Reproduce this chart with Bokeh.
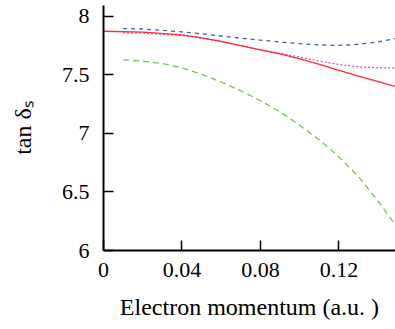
from bokeh.plotting import figure
from bokeh.models import Range1d, FixedTicker, CustomJSTickFormatter
from bokeh.embed import file_html
from bokeh.resources import INLINE

# data
k_red = [0.0, 0.02, 0.04, 0.05, 0.06, 0.07, 0.08, 0.09, 0.10, 0.11, 0.12, 0.13, 0.14, 0.149]
t_red = [7.874, 7.866, 7.843, 7.818, 7.787, 7.751, 7.715, 7.68, 7.638, 7.59, 7.54, 7.49, 7.443, 7.40]

k_blue = [0.01, 0.02, 0.03, 0.04, 0.05, 0.06, 0.07, 0.08, 0.09, 0.10, 0.11, 0.12, 0.13, 0.14, 0.149]
t_blue = [7.898, 7.893, 7.882, 7.868, 7.852, 7.833, 7.815, 7.798, 7.782, 7.768, 7.757, 7.753, 7.762, 7.784, 7.812]

k_mag = [0.01, 0.02, 0.04, 0.05, 0.06, 0.07, 0.08, 0.09, 0.10, 0.11, 0.12, 0.13, 0.14, 0.149]
t_mag = [7.862, 7.858, 7.838, 7.815, 7.785, 7.75, 7.715, 7.685, 7.653, 7.618, 7.59, 7.57, 7.562, 7.56]

k_green = [0.01, 0.02, 0.03, 0.04, 0.05, 0.06, 0.07, 0.08, 0.09, 0.10, 0.11, 0.12, 0.13, 0.14, 0.149]
t_green = [7.63, 7.618, 7.598, 7.56, 7.505, 7.44, 7.365, 7.28, 7.185, 7.07, 6.945, 6.80, 6.63, 6.42, 6.213]

x_ticks = [0, 0.04, 0.08, 0.12]
x_tick_labels = ["0", "0.04", "0.08", "0.12"]
y_ticks = [6, 6.5, 7, 7.5, 8]
y_tick_labels = ["6", "6.5", "7", "7.5", "8"]

FONT = "Liberation Serif"

FMT_CODE = """
let best = 0, bd = Infinity;
for (let i = 0; i < tvals.length; i++) {
  const d = Math.abs(tvals[i] - tick);
  if (d < bd) { bd = d; best = i; }
}
return tlabs[best];
"""

p = figure(width=395, height=329, output_backend="svg", toolbar_location=None,
           x_range=Range1d(0, 0.1488), y_range=Range1d(6, 8.094),
           min_border_left=103, min_border_right=0, min_border_top=5, min_border_bottom=79)
p.outline_line_color = None
p.xgrid.visible = False
p.ygrid.visible = False
p.background_fill_color = "white"
p.border_fill_color = "white"

for ax in (p.xaxis, p.yaxis):
    ax.axis_line_width = 2
    ax.axis_line_color = "black"
    ax.major_tick_in = 10
    ax.major_tick_out = 0
    ax.major_tick_line_width = 1.5
    ax.major_tick_line_color = "black"
    ax.minor_tick_line_color = None
    ax.major_label_text_font = FONT
    ax.major_label_text_font_size = "22px"
    ax.major_label_text_color = "black"
    ax.axis_label_text_font = FONT
    ax.axis_label_text_font_size = "24px"
    ax.axis_label_text_font_style = "normal"
    ax.axis_label_text_color = "black"

p.xaxis.ticker = FixedTicker(ticks=x_ticks)
p.xaxis.formatter = CustomJSTickFormatter(args=dict(tvals=x_ticks, tlabs=x_tick_labels), code=FMT_CODE)
p.yaxis.ticker = FixedTicker(ticks=y_ticks)
p.yaxis.formatter = CustomJSTickFormatter(args=dict(tvals=y_ticks, tlabs=y_tick_labels), code=FMT_CODE)
p.xaxis.major_label_standoff = 12
p.yaxis.major_label_standoff = 14

p.xaxis.axis_label = "Electron momentum (a.u. )"
p.xaxis.axis_label_standoff = 14
p.yaxis.axis_label = "tan δₛ"
p.yaxis.axis_label_standoff = 23

p.line(k_green, t_green, line_color="#6cc84a", line_width=1.3, line_dash="6 4")
p.line(k_blue, t_blue, line_color="#3a5cb8", line_width=1.3, line_dash="4 4")
p.line(k_mag, t_mag, line_color="#cc55c0", line_width=1.3, line_dash="2 2")
p.line(k_red, t_red, line_color="#ff2a2a", line_width=1.3)

open("out.html", "w").write(file_html(p, INLINE))
